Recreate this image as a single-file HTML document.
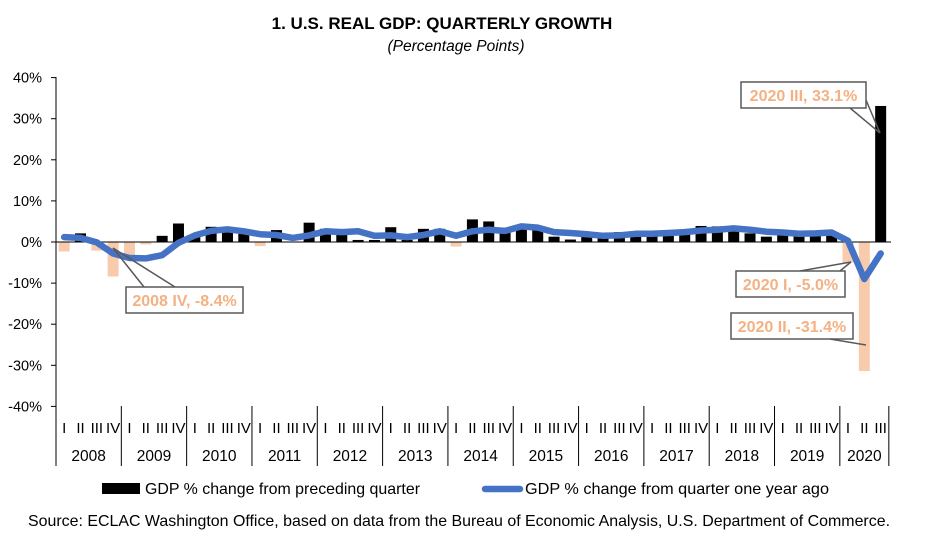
<!DOCTYPE html>
<html><head><meta charset="utf-8"><style>
body{margin:0;background:#fff;}
svg{display:block;font-family:"Liberation Sans",Arial,sans-serif;}
</style></head><body>
<svg id="c" width="943" height="551" xmlns="http://www.w3.org/2000/svg">
<text x="442" y="29" text-anchor="middle" font-size="17" font-weight="bold">1. U.S. REAL GDP: QUARTERLY GROWTH</text>
<text x="456" y="51" text-anchor="middle" font-size="15.5" font-style="italic">(Percentage Points)</text>
<g id="g"></g>
<rect x="102" y="483" width="38" height="11" fill="#000"/>
<text x="145" y="494" font-size="16" textLength="275" lengthAdjust="spacingAndGlyphs">GDP % change from preceding quarter</text>
<line x1="485" y1="489" x2="520" y2="489" stroke="#4472c4" stroke-width="6.5" stroke-linecap="round"/>
<text x="525" y="494" font-size="16" textLength="304" lengthAdjust="spacingAndGlyphs">GDP % change from quarter one year ago</text>
<text x="28" y="526" font-size="16" textLength="862" lengthAdjust="spacingAndGlyphs">Source: ECLAC Washington Office, based on data from the Bureau of Economic Analysis, U.S. Department of Commerce.</text>
</svg>
<script>
var bars=[-2.3,2.1,-2.1,-8.4,-4.4,-0.6,1.5,4.5,1.5,3.7,3.0,2.0,-1.0,2.9,-0.1,4.7,3.2,1.7,0.5,0.5,3.6,0.5,3.2,3.2,-1.1,5.5,5.0,2.3,3.2,3.0,1.3,0.6,2.4,1.2,2.4,2.0,2.3,1.7,2.9,3.9,3.8,2.7,2.1,1.3,2.9,1.5,2.6,2.4,-5.0,-31.4,33.1];
var yoy=[1.2,1.0,-0.1,-2.8,-3.9,-4.0,-3.2,-0.2,1.6,2.7,3.1,2.6,1.9,1.7,1.0,1.6,2.6,2.4,2.6,1.5,1.6,1.2,1.7,2.6,1.5,2.6,3.0,2.7,3.8,3.5,2.4,2.2,1.9,1.5,1.6,2.0,2.0,2.2,2.4,2.8,3.0,3.3,3.0,2.5,2.3,2.0,2.1,2.3,0.3,-9.0,-2.8];
var X0=56,QW=16.33;function Y(v){return 242-v*4.11;}
var s='';
for(var v=40;v>=-40;v-=10){var y=Y(v);s+='<text x="42" y="'+(y+5)+'" text-anchor="end" font-size="14.5">'+v+'%</text><line x1="51" y1="'+y+'" x2="56" y2="'+y+'" stroke="#000"/>';}
bars.forEach(function(b,i){var cx=X0+QW*(i+0.5);var y=Math.min(Y(b),242),h=Math.abs(b*4.11);s+='<rect x="'+(cx-5.5)+'" y="'+y+'" width="11" height="'+h+'" fill="'+(b<0?'#f8cbad':'#000')+'"/>';});
s+='<line x1="56" y1="242" x2="891" y2="242" stroke="#000"/>';
s+='<line x1="56" y1="77" x2="56" y2="466" stroke="#000"/>';
var q=['I','II','III','IV'];
for(var i=0;i<51;i++){var cx=X0+QW*(i+0.5);s+='<text x="'+cx+'" y="433" text-anchor="middle" font-size="15">'+q[i%4]+'</text>';}
for(var yr=0;yr<13;yr++){var x1=X0+yr*4*QW,x2=X0+Math.min(51,(yr+1)*4)*QW;s+='<line x1="'+x2+'" y1="406" x2="'+x2+'" y2="466" stroke="#000"/><text x="'+((x1+x2)/2)+'" y="461" text-anchor="middle" font-size="15.5">'+(2008+yr)+'</text>';}
var p=yoy.map(function(v,i){return (X0+QW*(i+0.5)).toFixed(1)+','+Y(v).toFixed(1);}).join(' ');
s+='<polyline points="'+p+'" fill="none" stroke="#4472c4" stroke-width="6.5" stroke-linejoin="round" stroke-linecap="round"/>';
function co(x,y,w,t,lines){var r='';lines.forEach(function(l){r+='<line x1="'+l[0]+'" y1="'+l[1]+'" x2="'+l[2]+'" y2="'+l[3]+'" stroke="#595959" stroke-width="1.5"/>';});r+='<rect x="'+x+'" y="'+y+'" width="'+w+'" height="26" fill="#fff" stroke="#595959" stroke-width="1.5"/><text x="'+(x+w/2)+'" y="'+(y+19)+'" text-anchor="middle" font-size="16" font-weight="bold" fill="#f4b183">'+t+'</text>';return r;}
s+=co(741,82,125,'2020 III, 33.1%',[[850,108,880,133],[866,100,880,133]]);
s+=co(736,271,109,'2020 I, -5.0%',[[800,271,851,262],[840,271,851,262]]);
s+=co(731,313,122,'2020 II, -31.4%',[[830,339,866,345]]);
s+=co(126,287,117,'2008 IV, -8.4%',[[144,287,113,248],[175,287,113,248]]);
document.getElementById('g').innerHTML=s;
</script>
</body></html>
